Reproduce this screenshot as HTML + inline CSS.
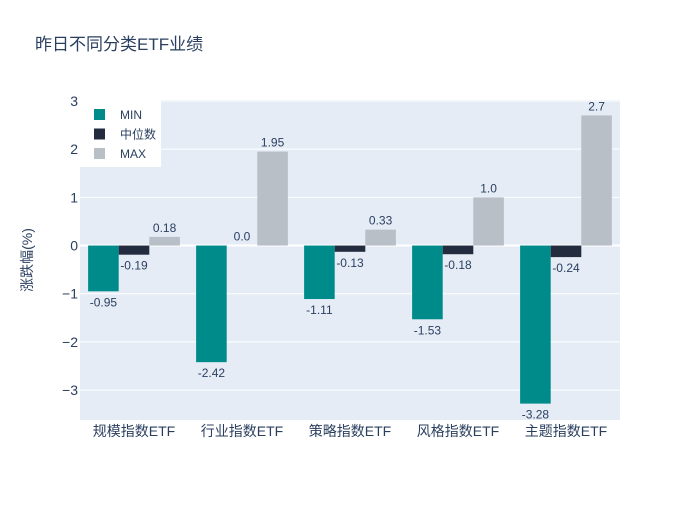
<!DOCTYPE html>
<html><head><meta charset="utf-8"><style>
body{margin:0;background:#fff;font-family:"Liberation Sans","Noto Sans CJK SC",sans-serif}
</style></head><body>
<svg id="c" width="700" height="500" xmlns="http://www.w3.org/2000/svg" font-family="'Liberation Sans','Noto Sans CJK SC',sans-serif">
<rect width="700" height="500" fill="#fff"/>
<text x="35" y="50" font-size="17" fill="#2a3f5f">昨日不同分类ETF业绩</text>
<rect x="80" y="100" width="540" height="320" fill="#E5ECF6"/>
<g id="grid"></g><g id="bars"></g><g id="labels"></g>
<text transform="translate(32,260) rotate(-90)" text-anchor="middle" font-size="14" fill="#2a3f5f">涨跌幅(%)</text>
<g id="legend"></g>
</svg>
<script>
const categories=["规模指数ETF","行业指数ETF","策略指数ETF","风格指数ETF","主题指数ETF"];
const seriesNames=["MIN","中位数","MAX"];
const minVals=[-0.95,-2.42,-1.11,-1.53,-3.28];
const medVals=[-0.19,0.0,-0.13,-0.18,-0.24];
const maxVals=[0.18,1.95,0.33,1.0,2.7];
const minLabels=["-0.95","-2.42","-1.11","-1.53","-3.28"];
const medLabels=["-0.19","0.0","-0.13","-0.18","-0.24"];
const maxLabels=["0.18","1.95","0.33","1.0","2.7"];
const yTicks=[-3,-2,-1,0,1,2,3];
const yTickLabels=["−3","−2","−1","0","1","2","3"];
const colors=["#008B8B","#232B3E","#B8BFC7"];
const NS="http://www.w3.org/2000/svg";
const X0=80,X1=620,Y0=100,Y1=420,ymin=-3.62,ymax=3.02;
const y=v=>Y1-(v-ymin)/(ymax-ymin)*(Y1-Y0);
const bandW=(X1-X0)/categories.length;
const barW=bandW*0.85/3;
const x=(i,s)=>X0+bandW*i+bandW*0.075+s*barW;
function el(t,a,p){const e=document.createElementNS(NS,t);for(const k in a)e.setAttribute(k,a[k]);document.getElementById(p).appendChild(e);return e;}
yTicks.forEach((t,i)=>{
 const l=el('line',{x1:X0,x2:X1,y1:y(t),y2:y(t),stroke:'#fff','stroke-width':t===0?2:1},'grid');
 
 
 const tx=el('text',{x:X0-2,y:y(t)+5,'text-anchor':'end','font-size':14,fill:'#2a3f5f'},'grid');
 tx.textContent=yTickLabels[i];
 
 
});
categories.forEach((c,i)=>{
 const tx=el('text',{x:X0+bandW*(i+0.5),y:436,'text-anchor':'middle','font-size':14,fill:'#2a3f5f'},'grid');
 tx.textContent=c;
 
 
});
const series=[minVals,medVals,maxVals],labs=[minLabels,medLabels,maxLabels];
series.forEach((vals,s)=>{
 vals.forEach((v,i)=>{
  const top=Math.min(y(v),y(0)),h=Math.abs(y(v)-y(0));
  const r=el('rect',{x:x(i,s),y:top,width:barW,height:h,fill:colors[s]},'bars');
  
  
  const ty=v>=0?y(v)-5:y(v)+15;
  const t=el('text',{x:x(i,s)+barW/2,y:ty,'text-anchor':'middle','font-size':12,fill:'#2a3f5f'},'labels');
  t.textContent=labs[s][i];
  
  
 });
});
const lb=el('rect',{x:80,y:100,width:81,height:67,fill:'#fff'},'legend');


seriesNames.forEach((n,s)=>{
 const yy=114+s*19.5;
 const sq=el('rect',{x:94,y:yy-5,width:11,height:11,fill:colors[s]},'legend');
 
 
 const t=el('text',{x:120,y:yy+5,'font-size':12,fill:'#2a3f5f'},'legend');
 t.textContent=n;
 
 
});
</script>
</body></html>
